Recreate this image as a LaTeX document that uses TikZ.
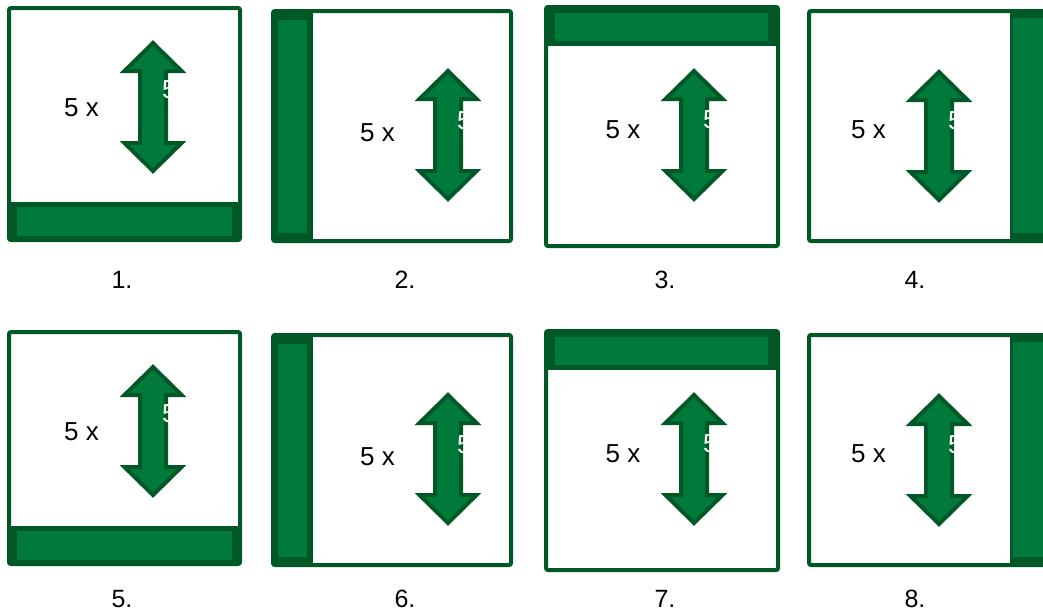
\documentclass[tikz,border=0pt]{standalone}
\usepackage{fontspec}
\setmainfont{Liberation Sans}
\definecolor{gfill}{RGB}{0,122,59}
\definecolor{gdark}{RGB}{0,88,38}
\tikzset{
  panelbox/.style={draw=gdark, line width=4pt, fill=white, rounded corners=2pt},
  bardark/.style={fill=gdark},
  barfill/.style={fill=gfill},
  txt/.style={font=\fontsize{26}{30}\selectfont, inner sep=0pt, text=black},
  wtxt/.style={font=\fontsize{26}{30}\selectfont, inner sep=0pt, text=white, anchor=west},
  lbl/.style={font=\fontsize{25}{30}\selectfont, inner sep=0pt},
  pics/dblarrow/.style={code={
    \draw[draw=gdark, fill=gfill, line width=4pt, line join=miter]
      (0,3) -- (28.5,31) -- (13,31) -- (13,103) -- (28.5,103) -- (0,131)
      -- (-28.5,103) -- (-13,103) -- (-13,31) -- (-28.5,31) -- cycle;
  }}
}
\begin{document}
\begin{tikzpicture}[x=1pt,y=-1pt]
\useasboundingbox (0,0) rectangle (1043,614);
\clip (0,0) rectangle (1043,614);
\foreach \dy/\ly/\a/\b/\c/\d in {0/280/1./2./3./4., 324/599/5./6./7./8.}{
\begin{scope}[yshift=-\dy pt]
  % panel 1 (bottom bar)
  \path[panelbox, draw=none] (9,8) rectangle (240,240);
  \fill[bardark] (11,202) rectangle (238,240);
  \fill[barfill] (17,207) rectangle (232,236);
  \draw[panelbox, fill=none] (9,8) rectangle (240,240);
  \pic (arrA) at (153,40) {dblarrow};
  \node[txt] (tA) at (81.5,108) {5 x};
  \node[wtxt] (wA) at (162,90) {5};
  % panel 2 (left bar)
  \path[panelbox, draw=none] (273,11) rectangle (511,241);
  \fill[bardark] (273,11) rectangle (313,241);
  \fill[barfill] (278,20) rectangle (307,233);
  \draw[panelbox, fill=none] (273,11) rectangle (511,241);
  \pic (arrB) at (448,68) {dblarrow};
  \node[txt] (tB) at (377.5,133) {5 x};
  \node[wtxt] (wB) at (457,121) {5};
  % panel 3 (top bar)
  \path[panelbox, draw=none] (546,7) rectangle (778,246);
  \fill[bardark] (546,7) rectangle (778,46);
  \fill[barfill] (555,13) rectangle (768,41);
  \draw[panelbox, fill=none] (546,7) rectangle (778,246);
  \pic (arrC) at (694,68) {dblarrow};
  \node[txt] (tC) at (623,130) {5 x};
  \node[wtxt] (wC) at (703,120) {5};
  % panel 4 (right bar)
  \path[panelbox, draw=none] (809,11) rectangle (1060,241);
  \fill[bardark] (1010,11) rectangle (1060,241);
  \fill[barfill] (1013,18) rectangle (1060,233);
  \draw[panelbox, fill=none] (809,11) rectangle (1060,241);
  \pic (arrD) at (939,69) {dblarrow};
  \node[txt] (tD) at (868.5,130) {5 x};
  \node[wtxt] (wD) at (948,121) {5};
\end{scope}
  \node[lbl] (lA) at (122,\ly) {\a};
  \node[lbl] (lB) at (405,\ly) {\b};
  \node[lbl] (lC) at (665,\ly) {\c};
  \node[lbl] (lD) at (915,\ly) {\d};
}
\end{tikzpicture}
\end{document}
